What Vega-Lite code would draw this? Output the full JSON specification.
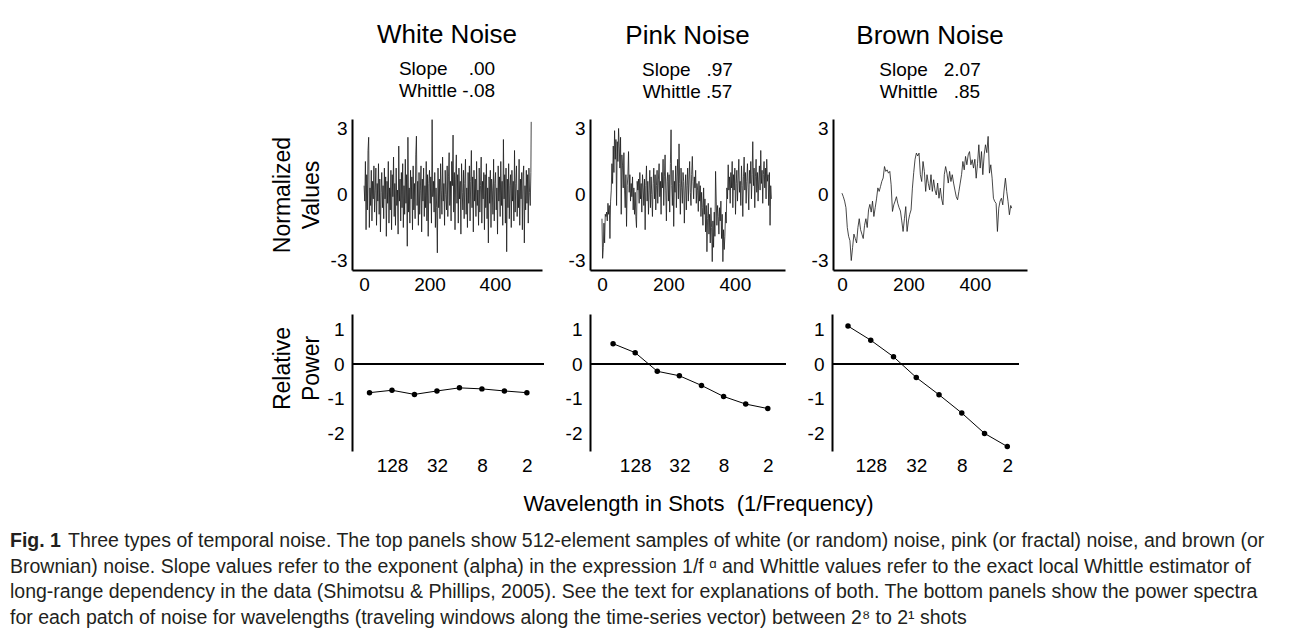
{
"$schema": "https://vega.github.io/schema/vega-lite/v6.json",
"background": "white",
"padding": {"left": 10, "top": 22, "right": 0, "bottom": 0},
"config": {
 "view": {"stroke": null},
 "font": "Liberation Sans",
 "axis": {"grid": false, "ticks": false, "domainColor": "black", "domainWidth": 2, "labelColor": "black", "labelFont": "Liberation Sans", "titleFont": "Liberation Sans", "titleFontWeight": "normal", "titleColor": "black", "labelExpr": "'' + datum.value"},
 "title": {"font": "Liberation Sans", "fontSize": 26, "fontWeight": "normal", "color": "black", "subtitleFont": "Liberation Sans", "subtitleFontSize": 19, "subtitleColor": "black", "subtitleLineHeight": 22, "subtitlePadding": 12, "offset": 17, "frame": "group", "anchor": "middle"}
},
"datasets": {
 "white": [{"i":0,"v":0.4},{"i":2,"v":-0.3},{"i":4,"v":1.5},{"i":6,"v":-1.6},{"i":8,"v":0.9},{"i":10,"v":-0.7},{"i":12,"v":2.0},{"i":14,"v":2.6},{"i":16,"v":-1.5},{"i":18,"v":0.3},{"i":20,"v":-0.5},{"i":22,"v":1.1},{"i":24,"v":-1.2},{"i":26,"v":0.6},{"i":28,"v":-0.2},{"i":30,"v":1.3},
 {"i":32,"v":-0.8},{"i":34,"v":0.2},{"i":36,"v":1.2},{"i":38,"v":-1.4},{"i":40,"v":0.5},{"i":42,"v":-0.3},{"i":44,"v":1.4},{"i":46,"v":-0.9},{"i":48,"v":0.7},{"i":50,"v":-1.7},{"i":52,"v":0.1},{"i":54,"v":1.0},{"i":56,"v":-0.6},{"i":58,"v":0.4},{"i":60,"v":-1.1},{"i":62,"v":1.2},
 {"i":64,"v":-0.2},{"i":66,"v":0.8},{"i":68,"v":-1.9},{"i":70,"v":0.6},{"i":72,"v":-0.4},{"i":74,"v":1.5},{"i":76,"v":-1.3},{"i":78,"v":0.3},{"i":80,"v":-0.7},{"i":82,"v":1.1},{"i":84,"v":-1.6},{"i":86,"v":0.9},{"i":88,"v":-0.1},{"i":90,"v":1.7},{"i":92,"v":-1.0},{"i":94,"v":0.5},
 {"i":96,"v":-1.4},{"i":98,"v":1.2},{"i":100,"v":-0.5},{"i":102,"v":0.2},{"i":104,"v":-1.8},{"i":106,"v":2.2},{"i":108,"v":-0.3},{"i":110,"v":0.7},{"i":112,"v":-1.2},{"i":114,"v":1.0},{"i":116,"v":-0.6},{"i":118,"v":1.4},{"i":120,"v":-1.5},{"i":122,"v":0.4},{"i":124,"v":-0.9},{"i":126,"v":1.6},
 {"i":128,"v":-0.4},{"i":130,"v":0.9},{"i":132,"v":-2.35},{"i":134,"v":2.6},{"i":136,"v":-0.8},{"i":138,"v":0.3},{"i":140,"v":-1.3},{"i":142,"v":1.1},{"i":144,"v":-0.2},{"i":146,"v":0.8},{"i":148,"v":-1.6},{"i":150,"v":1.3},{"i":152,"v":-0.7},{"i":154,"v":0.5},{"i":156,"v":-1.1},{"i":158,"v":1.8},
 {"i":160,"v":2.65},{"i":162,"v":-0.5},{"i":164,"v":0.6},{"i":166,"v":-1.4},{"i":168,"v":1.0},{"i":170,"v":-0.9},{"i":172,"v":0.2},{"i":174,"v":1.3},{"i":176,"v":-1.7},{"i":178,"v":0.7},{"i":180,"v":-0.3},{"i":182,"v":1.2},{"i":184,"v":-1.0},{"i":186,"v":0.4},{"i":188,"v":-0.6},{"i":190,"v":1.5},
 {"i":192,"v":-1.2},{"i":194,"v":0.9},{"i":196,"v":-1.9},{"i":198,"v":0.5},{"i":200,"v":1.1},{"i":202,"v":-0.4},{"i":204,"v":0.8},{"i":206,"v":-1.3},{"i":208,"v":3.4},{"i":210,"v":-0.1},{"i":212,"v":0.6},{"i":214,"v":-0.8},{"i":216,"v":1.0},{"i":218,"v":-1.5},{"i":220,"v":0.3},{"i":222,"v":-0.6},
 {"i":224,"v":-2.65},{"i":226,"v":1.2},{"i":228,"v":-0.6},{"i":230,"v":0.7},{"i":232,"v":-1.1},{"i":234,"v":1.4},{"i":236,"v":0.2},{"i":238,"v":-0.9},{"i":240,"v":1.7},{"i":242,"v":-0.3},{"i":244,"v":0.5},{"i":246,"v":-1.4},{"i":248,"v":1.1},{"i":250,"v":0.0},{"i":252,"v":-0.7},{"i":254,"v":1.3},
 {"i":256,"v":-1.0},{"i":258,"v":0.8},{"i":260,"v":1.9},{"i":262,"v":-0.5},{"i":264,"v":0.6},{"i":266,"v":-1.2},{"i":268,"v":1.5},{"i":270,"v":0.4},{"i":272,"v":2.7},{"i":274,"v":-0.8},{"i":276,"v":1.0},{"i":278,"v":-1.6},{"i":280,"v":0.7},{"i":282,"v":1.8},{"i":284,"v":-0.4},{"i":286,"v":0.9},
 {"i":288,"v":-1.3},{"i":290,"v":1.2},{"i":292,"v":-0.2},{"i":294,"v":0.6},{"i":296,"v":-1.8},{"i":298,"v":1.4},{"i":300,"v":0.1},{"i":302,"v":-0.7},{"i":304,"v":1.1},{"i":306,"v":-1.1},{"i":308,"v":0.5},{"i":310,"v":1.6},{"i":312,"v":-0.9},{"i":314,"v":0.3},{"i":316,"v":-1.5},{"i":318,"v":1.0},
 {"i":320,"v":-0.4},{"i":322,"v":1.3},{"i":324,"v":-1.2},{"i":326,"v":0.6},{"i":328,"v":2.0},{"i":330,"v":-0.6},{"i":332,"v":0.8},{"i":334,"v":-1.7},{"i":336,"v":1.1},{"i":338,"v":-0.3},{"i":340,"v":0.7},{"i":342,"v":-1.0},{"i":344,"v":1.5},{"i":346,"v":-0.5},{"i":348,"v":0.2},{"i":350,"v":-1.4},
 {"i":352,"v":1.2},{"i":354,"v":-0.8},{"i":356,"v":0.4},{"i":358,"v":1.7},{"i":360,"v":-1.3},{"i":362,"v":0.6},{"i":364,"v":-0.2},{"i":366,"v":1.0},{"i":368,"v":-1.6},{"i":370,"v":0.9},{"i":372,"v":-0.6},{"i":374,"v":1.4},{"i":376,"v":-1.1},{"i":378,"v":0.3},{"i":380,"v":-2.2},{"i":382,"v":0.8},
 {"i":384,"v":-0.4},{"i":386,"v":1.1},{"i":388,"v":-1.5},{"i":390,"v":0.7},{"i":392,"v":0.2},{"i":394,"v":-0.9},{"i":396,"v":1.6},{"i":398,"v":-1.2},{"i":400,"v":0.5},{"i":402,"v":1.0},{"i":404,"v":-0.7},{"i":406,"v":0.3},{"i":408,"v":-1.8},{"i":410,"v":1.3},{"i":412,"v":-0.3},{"i":414,"v":0.8},
 {"i":416,"v":-1.0},{"i":418,"v":1.5},{"i":420,"v":-0.5},{"i":422,"v":0.6},{"i":424,"v":-1.4},{"i":426,"v":2.5},{"i":428,"v":-0.2},{"i":430,"v":0.9},{"i":432,"v":-1.3},{"i":434,"v":1.2},{"i":436,"v":-2.6},{"i":438,"v":0.7},{"i":440,"v":-0.6},{"i":442,"v":1.4},{"i":444,"v":-1.1},{"i":446,"v":0.4},
 {"i":448,"v":0.9},{"i":450,"v":-1.5},{"i":452,"v":1.1},{"i":454,"v":-0.3},{"i":456,"v":0.6},{"i":458,"v":-1.2},{"i":460,"v":2.0},{"i":462,"v":-0.8},{"i":464,"v":0.5},{"i":466,"v":1.3},{"i":468,"v":-1.0},{"i":470,"v":0.2},{"i":472,"v":-0.6},{"i":474,"v":1.6},{"i":476,"v":-1.4},{"i":478,"v":0.7},
 {"i":480,"v":-0.2},{"i":482,"v":1.0},{"i":484,"v":-1.6},{"i":486,"v":0.8},{"i":488,"v":1.3},{"i":490,"v":-2.2},{"i":492,"v":0.4},{"i":494,"v":-0.7},{"i":496,"v":1.1},{"i":498,"v":-0.4},{"i":500,"v":0.9},{"i":502,"v":-1.3},{"i":504,"v":1.2},{"i":506,"v":0.1},{"i":508,"v":-0.5},{"i":510,"v":1.0},{"i":511,"v":3.3}],
 "pink": [{"i":0,"v":-1.1},{"i":2,"v":-2.9},{"i":4,"v":-2.4},{"i":6,"v":-1.3},{"i":8,"v":-2.2},{"i":10,"v":-0.9},{"i":12,"v":-1.0},{"i":14,"v":-0.8},{"i":16,"v":-1.2},{"i":18,"v":-0.4},{"i":20,"v":-0.9},{"i":22,"v":-0.5},{"i":24,"v":-2.0},{"i":26,"v":-0.3},{"i":28,"v":0.2},{"i":30,"v":1.4},
 {"i":32,"v":0.5},{"i":34,"v":2.2},{"i":36,"v":1.0},{"i":38,"v":2.9},{"i":40,"v":1.6},{"i":42,"v":2.5},{"i":44,"v":-0.5},{"i":46,"v":2.4},{"i":48,"v":1.5},{"i":50,"v":3.0},{"i":52,"v":2.2},{"i":54,"v":1.2},{"i":56,"v":2.6},{"i":58,"v":-0.9},{"i":60,"v":1.8},{"i":62,"v":1.3},
 {"i":64,"v":0.3},{"i":66,"v":1.9},{"i":68,"v":0.2},{"i":70,"v":-0.6},{"i":72,"v":0.9},{"i":74,"v":-1.45},{"i":76,"v":0.4},{"i":78,"v":0.8},{"i":80,"v":1.95},{"i":82,"v":0.1},{"i":84,"v":0.9},{"i":86,"v":-0.3},{"i":88,"v":0.5},{"i":90,"v":-0.1},{"i":92,"v":0.8},{"i":94,"v":-0.7},
 {"i":96,"v":0.3},{"i":98,"v":-0.9},{"i":100,"v":0.1},{"i":102,"v":-1.0},{"i":104,"v":-1.5},{"i":106,"v":0.6},{"i":108,"v":0.2},{"i":110,"v":0.7},{"i":112,"v":-0.4},{"i":114,"v":1.0},{"i":116,"v":-0.2},{"i":118,"v":0.5},{"i":120,"v":-0.8},{"i":122,"v":0.9},{"i":124,"v":0.3},{"i":126,"v":-0.5},
 {"i":128,"v":0.7},{"i":130,"v":-1.6},{"i":132,"v":0.4},{"i":134,"v":1.3},{"i":136,"v":-0.3},{"i":138,"v":0.6},{"i":140,"v":-0.9},{"i":142,"v":0.2},{"i":144,"v":1.1},{"i":146,"v":-0.6},{"i":148,"v":0.8},{"i":150,"v":0.0},{"i":152,"v":-1.0},{"i":154,"v":0.5},{"i":156,"v":1.2},{"i":158,"v":-0.2},
 {"i":160,"v":0.9},{"i":162,"v":-0.7},{"i":164,"v":0.4},{"i":166,"v":1.1},{"i":168,"v":-0.4},{"i":170,"v":0.7},{"i":172,"v":1.4},{"i":174,"v":-0.1},{"i":176,"v":0.6},{"i":178,"v":-0.9},{"i":180,"v":1.0},{"i":182,"v":0.3},{"i":184,"v":1.6},{"i":186,"v":-0.5},{"i":188,"v":0.8},{"i":190,"v":1.8},
 {"i":192,"v":0.2},{"i":194,"v":-1.2},{"i":196,"v":0.6},{"i":198,"v":1.0},{"i":200,"v":-0.3},{"i":202,"v":0.9},{"i":204,"v":-0.8},{"i":206,"v":1.4},{"i":208,"v":2.94},{"i":210,"v":0.4},{"i":212,"v":-0.5},{"i":214,"v":1.1},{"i":216,"v":-1.45},{"i":218,"v":0.6},{"i":220,"v":0.1},{"i":222,"v":1.3},
 {"i":224,"v":-0.6},{"i":226,"v":0.8},{"i":228,"v":1.6},{"i":230,"v":-0.2},{"i":232,"v":2.3},{"i":234,"v":0.5},{"i":236,"v":-0.9},{"i":238,"v":1.2},{"i":240,"v":0.3},{"i":242,"v":-0.4},{"i":244,"v":1.0},{"i":246,"v":0.6},{"i":248,"v":-1.3},{"i":250,"v":0.2},{"i":252,"v":0.9},{"i":254,"v":-0.7},
 {"i":256,"v":0.4},{"i":258,"v":1.2},{"i":260,"v":-0.3},{"i":262,"v":0.7},{"i":264,"v":1.5},{"i":266,"v":0.1},{"i":268,"v":-0.5},{"i":270,"v":0.9},{"i":272,"v":1.73},{"i":274,"v":0.6},{"i":276,"v":-0.2},{"i":278,"v":0.8},{"i":280,"v":0.3},{"i":282,"v":1.1},{"i":284,"v":-0.4},{"i":286,"v":0.5},
 {"i":288,"v":0.2},{"i":290,"v":-0.77},{"i":292,"v":0.6},{"i":294,"v":-0.3},{"i":296,"v":0.4},{"i":298,"v":-1.0},{"i":300,"v":0.1},{"i":302,"v":-0.6},{"i":304,"v":-1.4},{"i":306,"v":0.3},{"i":308,"v":-0.9},{"i":310,"v":-0.2},{"i":312,"v":-1.7},{"i":314,"v":-0.5},{"i":316,"v":-2.6},{"i":318,"v":-1.1},
 {"i":320,"v":-0.4},{"i":322,"v":-1.8},{"i":324,"v":-0.9},{"i":326,"v":-2.2},{"i":328,"v":-0.6},{"i":330,"v":-1.5},{"i":332,"v":-3.05},{"i":334,"v":-1.2},{"i":336,"v":-2.4},{"i":338,"v":-0.8},{"i":340,"v":-1.9},{"i":342,"v":1.05},{"i":344,"v":-0.3},{"i":346,"v":-1.4},{"i":348,"v":-0.5},{"i":350,"v":-1.0},
 {"i":352,"v":-1.8},{"i":354,"v":-0.6},{"i":356,"v":-1.2},{"i":358,"v":-0.3},{"i":360,"v":-2.0},{"i":362,"v":-0.9},{"i":364,"v":-3.05},{"i":366,"v":-1.6},{"i":368,"v":-2.5},{"i":370,"v":-1.9},{"i":372,"v":-0.8},{"i":374,"v":-1.3},{"i":376,"v":0.3},{"i":378,"v":-0.2},{"i":380,"v":1.35},{"i":382,"v":0.2},
 {"i":384,"v":0.8},{"i":386,"v":-0.4},{"i":388,"v":1.0},{"i":390,"v":0.3},{"i":392,"v":1.5},{"i":394,"v":-0.6},{"i":396,"v":0.9},{"i":398,"v":0.2},{"i":400,"v":1.2},{"i":402,"v":-0.9},{"i":404,"v":0.5},{"i":406,"v":1.1},{"i":408,"v":-0.3},{"i":410,"v":0.7},{"i":412,"v":1.6},{"i":414,"v":0.1},
 {"i":416,"v":0.6},{"i":418,"v":-0.5},{"i":420,"v":1.3},{"i":422,"v":0.4},{"i":424,"v":-1.0},{"i":426,"v":0.8},{"i":428,"v":1.7},{"i":430,"v":0.2},{"i":432,"v":1.0},{"i":434,"v":-0.4},{"i":436,"v":0.6},{"i":438,"v":1.4},{"i":440,"v":0.3},{"i":442,"v":-0.7},{"i":444,"v":1.1},{"i":446,"v":0.5},
 {"i":448,"v":1.5},{"i":450,"v":-0.2},{"i":452,"v":0.9},{"i":454,"v":2.4},{"i":456,"v":0.4},{"i":458,"v":1.2},{"i":460,"v":-0.6},{"i":462,"v":0.8},{"i":464,"v":1.6},{"i":466,"v":0.1},{"i":468,"v":1.0},{"i":470,"v":-0.3},{"i":472,"v":0.7},{"i":474,"v":1.3},{"i":476,"v":0.2},{"i":478,"v":2.0},
 {"i":480,"v":0.5},{"i":482,"v":1.1},{"i":484,"v":-0.4},{"i":486,"v":0.9},{"i":488,"v":1.5},{"i":490,"v":0.3},{"i":492,"v":1.2},{"i":494,"v":-0.2},{"i":496,"v":1.6},{"i":498,"v":0.6},{"i":500,"v":0.9},{"i":502,"v":-0.5},{"i":504,"v":1.0},{"i":506,"v":-1.4},{"i":508,"v":0.4},{"i":510,"v":-0.2}],
 "brown": [{"i":0,"v":0.06},{"i":4,"v":-0.1},{"i":8,"v":-0.3},{"i":12,"v":-0.6},{"i":16,"v":-1.5},{"i":20,"v":-1.9},{"i":24,"v":-2.1},{"i":28,"v":-3.0},{"i":32,"v":-2.4},{"i":36,"v":-1.8},{"i":40,"v":-2.0},{"i":44,"v":-2.2},{"i":48,"v":-1.5},{"i":52,"v":-1.1},{"i":56,"v":-1.6},{"i":60,"v":-1.8},
 {"i":64,"v":-2.0},{"i":68,"v":-1.4},{"i":72,"v":-1.1},{"i":76,"v":-1.5},{"i":80,"v":-0.7},{"i":84,"v":-0.45},{"i":88,"v":-0.8},{"i":92,"v":-0.3},{"i":96,"v":-1.0},{"i":100,"v":-0.6},{"i":104,"v":-0.2},{"i":108,"v":0.3},{"i":112,"v":0.14},{"i":116,"v":0.36},{"i":120,"v":0.6},{"i":124,"v":0.75},
 {"i":128,"v":1.27},{"i":132,"v":1.05},{"i":136,"v":1.12},{"i":140,"v":0.97},{"i":144,"v":1.05},{"i":148,"v":0.44},{"i":152,"v":-0.77},{"i":156,"v":-0.47},{"i":160,"v":-0.3},{"i":164,"v":-0.1},{"i":168,"v":-0.4},{"i":172,"v":-0.6},{"i":176,"v":-0.75},{"i":180,"v":-1.2},{"i":184,"v":-1.68},{"i":188,"v":-1.1},
 {"i":192,"v":-0.55},{"i":196,"v":-1.68},{"i":200,"v":-1.2},{"i":204,"v":-0.9},{"i":208,"v":-0.7},{"i":212,"v":0.29},{"i":216,"v":1.0},{"i":220,"v":1.6},{"i":224,"v":1.88},{"i":228,"v":1.75},{"i":232,"v":1.88},{"i":236,"v":0.9},{"i":240,"v":0.59},{"i":244,"v":1.5},{"i":248,"v":1.05},{"i":252,"v":0.14},
 {"i":256,"v":0.9},{"i":260,"v":0.5},{"i":264,"v":0.21},{"i":268,"v":0.9},{"i":272,"v":0.14},{"i":276,"v":0.67},{"i":280,"v":0.2},{"i":284,"v":-0.02},{"i":288,"v":0.52},{"i":292,"v":-0.17},{"i":296,"v":0.29},{"i":300,"v":-0.2},{"i":304,"v":-0.47},{"i":308,"v":0.9},{"i":312,"v":1.27},{"i":316,"v":0.97},
 {"i":320,"v":0.52},{"i":324,"v":1.05},{"i":328,"v":0.59},{"i":332,"v":0.9},{"i":336,"v":0.52},{"i":340,"v":0.2},{"i":344,"v":-0.1},{"i":348,"v":-0.24},{"i":352,"v":0.14},{"i":356,"v":0.52},{"i":360,"v":0.9},{"i":364,"v":1.5},{"i":368,"v":1.12},{"i":372,"v":1.73},{"i":376,"v":1.35},{"i":380,"v":1.8},
 {"i":384,"v":1.95},{"i":388,"v":1.35},{"i":392,"v":1.58},{"i":396,"v":1.2},{"i":400,"v":1.6},{"i":404,"v":0.74},{"i":408,"v":1.4},{"i":412,"v":2.26},{"i":416,"v":1.2},{"i":420,"v":1.95},{"i":424,"v":0.9},{"i":428,"v":1.8},{"i":432,"v":2.26},{"i":436,"v":1.9},{"i":440,"v":2.64},{"i":444,"v":0.97},
 {"i":448,"v":1.35},{"i":452,"v":0.74},{"i":456,"v":-0.17},{"i":460,"v":-0.32},{"i":464,"v":-0.4},{"i":468,"v":-1.68},{"i":472,"v":-0.62},{"i":476,"v":-0.3},{"i":480,"v":-0.17},{"i":484,"v":-0.47},{"i":488,"v":0.2},{"i":492,"v":0.74},{"i":496,"v":0.14},{"i":500,"v":-0.32},{"i":504,"v":-0.92},{"i":508,"v":-0.5},{"i":511,"v":-0.62}],
 "spectra": [
 {"noise":"White","wavelength":256,"power":-0.83},{"noise":"White","wavelength":128,"power":-0.76},{"noise":"White","wavelength":64,"power":-0.88},{"noise":"White","wavelength":32,"power":-0.78},{"noise":"White","wavelength":16,"power":-0.69},{"noise":"White","wavelength":8,"power":-0.72},{"noise":"White","wavelength":4,"power":-0.78},{"noise":"White","wavelength":2,"power":-0.83},
 {"noise":"Pink","wavelength":256,"power":0.59},{"noise":"Pink","wavelength":128,"power":0.33},{"noise":"Pink","wavelength":64,"power":-0.21},{"noise":"Pink","wavelength":32,"power":-0.34},{"noise":"Pink","wavelength":16,"power":-0.62},{"noise":"Pink","wavelength":8,"power":-0.94},{"noise":"Pink","wavelength":4,"power":-1.16},{"noise":"Pink","wavelength":2,"power":-1.29},
 {"noise":"Brown","wavelength":256,"power":1.1},{"noise":"Brown","wavelength":128,"power":0.69},{"noise":"Brown","wavelength":64,"power":0.21},{"noise":"Brown","wavelength":32,"power":-0.39},{"noise":"Brown","wavelength":16,"power":-0.89},{"noise":"Brown","wavelength":8,"power":-1.42},{"noise":"Brown","wavelength":4,"power":-2.01},{"noise":"Brown","wavelength":2,"power":-2.39}],
 "caption": [
 {"line":1,"kind":"label","text":"Fig. 1"},
 {"line":1,"kind":"body","text":"Three types of temporal noise. The top panels show 512-element samples of white (or random) noise, pink (or fractal) noise, and brown (or"},
 {"line":2,"kind":"body","text":"Brownian) noise. Slope values refer to the exponent (alpha) in the expression 1/f ᵅ and Whittle values refer to the exact local Whittle estimator of"},
 {"line":3,"kind":"body","text":"long-range dependency in the data (Shimotsu & Phillips, 2005). See the text for explanations of both. The bottom panels show the power spectra"},
 {"line":4,"kind":"body","text":"for each patch of noise for wavelengths (traveling windows along the time-series vector) between 2⁸ to 2¹ shots"}]
},
"spacing": 17,
"vconcat": [
 {"spacing": 0, "hconcat": [
  {"width": 261, "height": 1, "data": {"values": []}, "mark": "point"},
  {"spacing": 20, "vconcat": [
   {"spacing": 48, "bounds": "flush", "hconcat": [
    {"width": 190, "height": 151,
     "title": {"text": "White Noise", "subtitle": ["Slope\u00a0\u00a0\u00a0\u00a0.00", "Whittle -.08"]},
     "data": {"name": "white"},
     "mark": {"type": "line", "color": "#1a1a1a", "strokeWidth": 0.8},
     "encoding": {
      "x": {"field": "i", "type": "quantitative", "scale": {"domain": [-37, 544], "nice": false, "zero": false}, "axis": {"values": [0, 200, 400], "title": null, "labelFontSize": 19, "labelPadding": 5}},
      "y": {"field": "v", "type": "quantitative", "scale": {"domain": [-3.43, 3.43], "nice": false, "zero": false}, "axis": {"values": [-3, 0, 3], "title": ["Normalized", "Values"], "titleFontSize": 23, "titleLineHeight": 29, "titlePadding": 5, "minExtent": 24, "maxExtent": 24, "labelFontSize": 19, "labelPadding": 5}}
     }},
    {"width": 195, "height": 151,
     "title": {"text": "Pink Noise", "subtitle": ["Slope\u00a0\u00a0\u00a0.97", "Whittle .57"]},
     "data": {"name": "pink"},
     "mark": {"type": "line", "color": "#1a1a1a", "strokeWidth": 0.8},
     "encoding": {
      "x": {"field": "i", "type": "quantitative", "scale": {"domain": [-36, 551], "nice": false, "zero": false}, "axis": {"values": [0, 200, 400], "title": null, "labelFontSize": 19, "labelPadding": 5}},
      "y": {"field": "v", "type": "quantitative", "scale": {"domain": [-3.43, 3.43], "nice": false, "zero": false}, "axis": {"values": [-3, 0, 3], "title": null, "labelFontSize": 19, "labelPadding": 5}}
     }},
    {"width": 194, "height": 151,
     "title": {"text": "Brown Noise", "subtitle": ["Slope\u00a0\u00a0\u00a02.07", "Whittle\u00a0\u00a0\u00a0.85"]},
     "data": {"name": "brown"},
     "mark": {"type": "line", "color": "#1a1a1a", "strokeWidth": 0.8},
     "encoding": {
      "x": {"field": "i", "type": "quantitative", "scale": {"domain": [-27, 557], "nice": false, "zero": false}, "axis": {"values": [0, 200, 400], "title": null, "labelFontSize": 19, "labelPadding": 5}},
      "y": {"field": "v", "type": "quantitative", "scale": {"domain": [-3.43, 3.43], "nice": false, "zero": false}, "axis": {"values": [-3, 0, 3], "title": null, "labelFontSize": 19, "labelPadding": 5}}
     }}
   ]},
   {"spacing": 46, "bounds": "flush", "hconcat": [
    {"width": 192, "height": 137,
     "data": {"name": "spectra"},
     "transform": [{"filter": "datum.noise === 'White'"}],
     "encoding": {
      "x": {"field": "wavelength", "type": "quantitative", "scale": {"type": "log", "base": 2, "domain": [1.18, 439], "reverse": true, "nice": false}, "axis": {"values": [128, 32, 8, 2], "title": null, "domain": false, "labelFontSize": 19, "labelPadding": 5}},
      "y": {"field": "power", "type": "quantitative", "scale": {"domain": [-2.52, 1.45], "nice": false, "zero": false}, "axis": {"values": [-2, -1, 0, 1], "title": ["Relative", "Power"], "titleFontSize": 23, "titleLineHeight": 29, "titlePadding": 5, "titleY": 54, "minExtent": 24, "maxExtent": 24, "labelFontSize": 19, "labelPadding": 8}}
     },
     "layer": [
      {"mark": {"type": "rule", "color": "black", "strokeWidth": 1.5}, "encoding": {"x": null, "y": {"datum": 0}}},
      {"mark": {"type": "line", "color": "black", "strokeWidth": 1, "point": {"filled": true, "size": 30, "color": "black"}}}
     ]},
    {"width": 196, "height": 137,
     "data": {"name": "spectra"},
     "transform": [{"filter": "datum.noise === 'Pink'"}],
     "encoding": {
      "x": {"field": "wavelength", "type": "quantitative", "scale": {"type": "log", "base": 2, "domain": [1.13, 528], "reverse": true, "nice": false}, "axis": {"values": [128, 32, 8, 2], "title": "Wavelength in Shots\u00a0 (1/Frequency)", "titleFontSize": 22, "titlePadding": 18, "titleX": 108, "domain": false, "labelFontSize": 19, "labelPadding": 5}},
      "y": {"field": "power", "type": "quantitative", "scale": {"domain": [-2.52, 1.45], "nice": false, "zero": false}, "axis": {"values": [-2, -1, 0, 1], "title": null, "labelFontSize": 19, "labelPadding": 8}}
     },
     "layer": [
      {"mark": {"type": "rule", "color": "black", "strokeWidth": 1.5}, "encoding": {"x": null, "y": {"datum": 0}}},
      {"mark": {"type": "line", "color": "black", "strokeWidth": 1, "point": {"filled": true, "size": 30, "color": "black"}}}
     ]},
    {"width": 187, "height": 137,
     "data": {"name": "spectra"},
     "transform": [{"filter": "datum.noise === 'Brown'"}],
     "encoding": {
      "x": {"field": "wavelength", "type": "quantitative", "scale": {"type": "log", "base": 2, "domain": [1.4, 417], "reverse": true, "nice": false}, "axis": {"values": [128, 32, 8, 2], "title": null, "domain": false, "labelFontSize": 19, "labelPadding": 5}},
      "y": {"field": "power", "type": "quantitative", "scale": {"domain": [-2.52, 1.45], "nice": false, "zero": false}, "axis": {"values": [-2, -1, 0, 1], "title": null, "labelFontSize": 19, "labelPadding": 8}}
     },
     "layer": [
      {"mark": {"type": "rule", "color": "black", "strokeWidth": 1.5}, "encoding": {"x": null, "y": {"datum": 0}}},
      {"mark": {"type": "line", "color": "black", "strokeWidth": 1, "point": {"filled": true, "size": 30, "color": "black"}}}
     ]}
   ]}
  ]}
 ]},
 {"width": 1270, "height": 77,
  "data": {"name": "caption"},
  "encoding": {
   "y": {"field": "line", "type": "quantitative", "scale": {"domain": [1, 4], "reverse": true}, "axis": null},
   "x": {"value": 0},
   "text": {"field": "text"}
  },
  "layer": [
   {"transform": [{"filter": "datum.kind === 'label'"}], "mark": {"type": "text", "align": "left", "baseline": "middle", "font": "Liberation Sans", "fontSize": 19.5, "fontWeight": "bold", "color": "#231f20"}},
   {"transform": [{"filter": "datum.kind === 'body' && datum.line === 1"}], "mark": {"type": "text", "align": "left", "baseline": "middle", "font": "Liberation Sans", "fontSize": 19.5, "dx": 58, "color": "#231f20"}},
   {"transform": [{"filter": "datum.kind === 'body' && datum.line > 1"}], "mark": {"type": "text", "align": "left", "baseline": "middle", "font": "Liberation Sans", "fontSize": 19.5, "color": "#231f20"}}
  ]}
]
}
